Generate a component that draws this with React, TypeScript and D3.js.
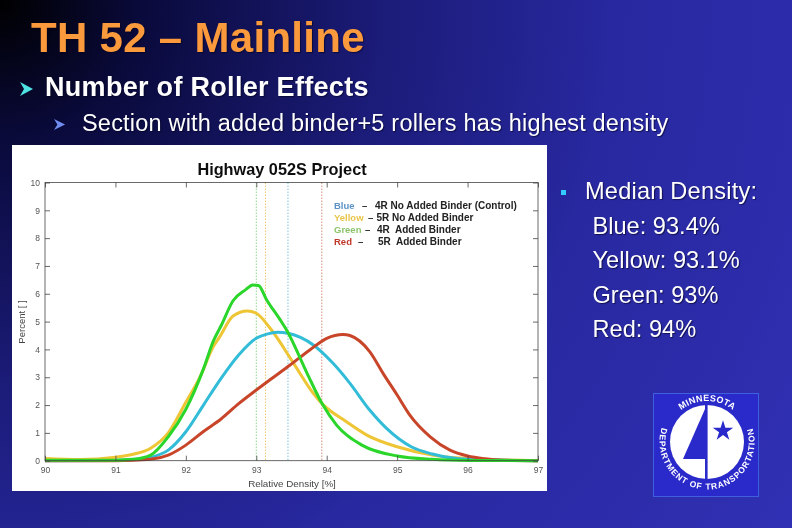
import React, { useEffect, useRef } from 'react';
import * as d3 from 'd3';

const xTicks = [90, 91, 92, 93, 94, 95, 96, 97];
const yTicks = [0, 1, 2, 3, 4, 5, 6, 7, 8, 9, 10];

const yellowX = [90, 90.5, 91, 91.25, 91.5, 91.75, 92, 92.2, 92.39, 92.48, 92.67, 92.87, 93.0, 93.2, 93.53, 93.81, 93.93, 94.28, 94.57, 95, 95.5, 96, 97];
const yellowY = [0.08, 0.04, 0.12, 0.23, 0.45, 1.0, 2.1, 3.0, 4.1, 4.45, 5.2, 5.38, 5.3, 4.75, 3.5, 2.42, 2.06, 1.4, 0.92, 0.5, 0.2, 0.08, 0];

const blueX = [90, 91, 91.25, 91.5, 91.75, 92, 92.25, 92.5, 92.75, 93, 93.15, 93.3, 93.45, 93.81, 94.09, 94.33, 94.61, 94.85, 95.2, 95.5, 96, 97];
const blueY = [0, 0.01, 0.04, 0.12, 0.38, 1.04, 2.0, 2.96, 3.8, 4.4, 4.55, 4.62, 4.58, 4.16, 3.5, 2.78, 1.82, 1.16, 0.5, 0.24, 0.05, 0];

const redX = [90, 91, 91.5, 91.75, 92, 92.25, 92.5, 92.75, 93, 93.19, 93.48, 93.76, 94.0, 94.23, 94.33, 94.61, 94.8, 95, 95.18, 95.47, 95.75, 96, 96.25, 96.5, 97];
const redY = [0, 0, 0.05, 0.2, 0.56, 1.05, 1.5, 2.05, 2.54, 2.9, 3.44, 3.98, 4.4, 4.54, 4.5, 3.92, 3.14, 2.36, 1.64, 0.86, 0.38, 0.17, 0.07, 0.02, 0];

const greenX = [90, 90.5, 91, 91.25, 91.5, 91.75, 92, 92.25, 92.39, 92.5, 92.67, 92.85, 92.95, 93.03, 93.15, 93.34, 93.43, 93.72, 93.93, 94.14, 94.5, 95, 95.5, 96, 97];
const greenY = [0.02, 0.02, 0.02, 0.05, 0.2, 0.86, 1.85, 3.3, 4.3, 4.85, 5.75, 6.15, 6.32, 6.3, 5.77, 5.06, 4.7, 3.15, 2.07, 1.28, 0.56, 0.17, 0.05, 0.01, 0];

const medians = [93.0, 93.13, 93.45, 93.93];
const medianColors = ['#8fd68f', '#eec56a', '#7cc4dc', '#d9907a'];

const legendNames = ['Blue', 'Yellow', 'Green', 'Red'];
const legendColors = ['#5b93c4', '#e8c54a', '#8cc46c', '#c0392b'];
const legendText = ['4R No Added Binder (Control)', '5R No Added Binder', '4R  Added Binder', '5R  Added Binder'];
const legendDashX = [362, 368, 365, 358];
const legendTextX = [375, 376.5, 377, 378];

const medianLines = ['Blue: 93.4%', 'Yellow: 93.1%', 'Green: 93%', 'Red: 94%'];

const sans = '"Liberation Sans", Arial, sans-serif';
const shadow = '1px 1px 1px rgba(0,0,30,0.6)';

const App: React.FC = () => {
  const ref = useRef<SVGSVGElement | null>(null);

  useEffect(() => {
    const svg = d3.select(ref.current);
    svg.selectAll('*').remove();

    const defs = svg.append('defs');
    const bg = defs.append('radialGradient').attr('id', 'bg').attr('gradientUnits', 'userSpaceOnUse')
      .attr('cx', 0).attr('cy', 0).attr('r', 950);
    bg.append('stop').attr('offset', '0%').attr('stop-color', '#000000');
    bg.append('stop').attr('offset', '15%').attr('stop-color', '#0a0a3c');
    bg.append('stop').attr('offset', '40%').attr('stop-color', '#1b1b78');
    bg.append('stop').attr('offset', '65%').attr('stop-color', '#2828a0');
    bg.append('stop').attr('offset', '100%').attr('stop-color', '#3030b4');
    defs.append('filter').attr('id', 'soft').append('feGaussianBlur').attr('stdDeviation', 0.5);
    defs.append('path').attr('id', 'logoTop').attr('d', 'M 666 442 A 41 41 0 0 1 748 442');
    defs.append('path').attr('id', 'logoRing').attr('d', 'M 666 418 A 47.5 47.5 0 1 0 748 418');

    svg.append('rect').attr('width', 792).attr('height', 528).attr('fill', 'url(#bg)');

    // slide text
    const slideText = (tx: number, ty: number, txt: string, size: number, weight: number, spacing: number, color = '#ffffff') =>
      svg.append('text').attr('x', tx).attr('y', ty).attr('fill', color)
        .attr('font-family', sans).attr('font-weight', weight).attr('font-size', size)
        .attr('letter-spacing', spacing).style('text-shadow', shadow).text(txt);

    slideText(31, 52, 'TH 52 – Mainline', 42, 700, 0.3, '#fb9a3c');
    slideText(45, 96, 'Number of Roller Effects', 27, 700, 0.3);
    slideText(82, 131, 'Section with added binder+5 rollers has highest density', 23.5, 400, 0.2);

    const arrow = 'M 0 0 L 13 7 L 0 14 L 4 7 Z';
    svg.append('path').attr('d', arrow).attr('transform', 'translate(20,82)').attr('fill', '#4fe3e3');
    svg.append('path').attr('d', arrow).attr('transform', 'translate(54,119) scale(0.85,0.78)').attr('fill', '#6f8cf0');

    // white chart panel
    svg.append('rect').attr('x', 12).attr('y', 145).attr('width', 535).attr('height', 346).attr('fill', '#ffffff');

    const x = d3.scaleLinear().domain([90, 97]).range([45, 538]);
    const y = d3.scaleLinear().domain([0, 10]).range([460.7, 182.5]);

    const plot = svg.append('g').attr('filter', 'url(#soft)');

    plot.append('text').attr('x', 282).attr('y', 175).attr('text-anchor', 'middle').attr('fill', '#111')
      .attr('font-family', sans).attr('font-weight', 700).attr('font-size', 16.3).text('Highway 052S Project');

    medians.forEach((m, i) => {
      plot.append('line').attr('x1', x(m)).attr('x2', x(m)).attr('y1', y(10)).attr('y2', y(0))
        .attr('stroke', medianColors[i]).attr('stroke-width', 1).attr('stroke-dasharray', '1.5 1.5');
    });

    const line = d3.line<[number, number]>().x((d) => x(d[0])).y((d) => y(d[1])).curve(d3.curveMonotoneX);
    const drawSeries = (xs: number[], ys: number[], color: string) => {
      plot.append('path').datum(d3.zip(xs, ys) as [number, number][])
        .attr('fill', 'none').attr('stroke', color).attr('stroke-width', 3).attr('stroke-linejoin', 'round')
        .attr('d', line as any);
    };
    drawSeries(yellowX, yellowY, '#eec535');
    drawSeries(blueX, blueY, '#30bcd8');
    drawSeries(redX, redY, '#c8452a');
    drawSeries(greenX, greenY, '#2bd62b');

    // axes box
    plot.append('rect').attr('x', x(90)).attr('y', y(10)).attr('width', x(97) - x(90)).attr('height', y(0) - y(10))
      .attr('fill', 'none').attr('stroke', '#444').attr('stroke-width', 0.8);

    const xAxis = plot.append('g').attr('transform', `translate(0,${y(0)})`)
      .call(d3.axisBottom(x).tickValues(xTicks).tickFormat(d3.format('d')).tickSize(-5).tickPadding(6));
    const yAxis = plot.append('g').attr('transform', `translate(${x(90)},0)`)
      .call(d3.axisLeft(y).tickValues(yTicks).tickFormat(d3.format('d')).tickSize(-5).tickPadding(5));
    const topAxis = plot.append('g').attr('transform', `translate(0,${y(10)})`)
      .call(d3.axisTop(x).tickValues(xTicks).tickFormat(() => '').tickSize(-5));
    const rightAxis = plot.append('g').attr('transform', `translate(${x(97)},0)`)
      .call(d3.axisRight(y).tickValues(yTicks).tickFormat(() => '').tickSize(-5));
    [xAxis, yAxis, topAxis, rightAxis].forEach((a) => {
      a.select('.domain').remove();
      a.selectAll('line').attr('stroke', '#444').attr('stroke-width', 0.8);
      a.selectAll('text').attr('fill', '#555').attr('font-family', sans).attr('font-size', 8.5);
    });

    plot.append('text').attr('x', 292).attr('y', 487).attr('text-anchor', 'middle').attr('fill', '#444')
      .attr('font-family', sans).attr('font-size', 9.8).text('Relative Density [%]');
    plot.append('text').attr('transform', 'translate(25,322) rotate(-90)').attr('text-anchor', 'middle').attr('fill', '#444')
      .attr('font-family', sans).attr('font-size', 9.5).text('Percent [ ]');

    // legend
    legendNames.forEach((name, i) => {
      const ly = 209 + i * 11.9;
      plot.append('text').attr('x', 334).attr('y', ly).attr('fill', legendColors[i])
        .attr('font-family', sans).attr('font-weight', 700).attr('font-size', 9.5).text(name);
      plot.append('text').attr('x', legendDashX[i]).attr('y', ly).attr('fill', '#222')
        .attr('font-family', sans).attr('font-weight', 700).attr('font-size', 9.5).text('–');
      plot.append('text').attr('x', legendTextX[i]).attr('y', ly).attr('fill', '#222')
        .attr('font-family', sans).attr('font-weight', 700).attr('font-size', 10)
        .style('white-space', 'pre').text(legendText[i]);
    });

    // right hand text
    svg.append('rect').attr('x', 561).attr('y', 190).attr('width', 5).attr('height', 5).attr('fill', '#33ccff');
    slideText(585, 199, 'Median Density:', 23.6, 400, 0.2);
    medianLines.forEach((t, i) => {
      slideText(592.5, 234 + i * 34.4, t, 23.6, 400, 0);
    });

    // Mn/DOT logo
    const logo = svg.append('g');
    logo.append('rect').attr('x', 653.5).attr('y', 393.5).attr('width', 105).attr('height', 103)
      .attr('fill', '#2a2acb').attr('stroke', '#3f5fe0').attr('stroke-width', 1);
    logo.append('circle').attr('cx', 707).attr('cy', 442).attr('r', 37).attr('fill', '#ffffff');
    logo.append('path').attr('d', 'M 705 409 L 683 459 L 705 459 Z').attr('fill', '#2a2acb');
    logo.append('rect').attr('x', 705).attr('y', 405).attr('width', 2.6).attr('height', 74).attr('fill', '#2a2acb');
    const star = d3.symbol().type(d3.symbolStar).size(130);
    logo.append('path').attr('d', star() as string).attr('transform', 'translate(723,431)').attr('fill', '#2a2acb');
    const ring = (id: string, txt: string, size: number, spacing: number) => {
      logo.append('text').attr('fill', '#ffffff').attr('font-family', sans).attr('font-weight', 700).attr('font-size', size)
        .attr('letter-spacing', spacing)
        .append('textPath').attr('href', `#${id}`).attr('startOffset', '50%').attr('text-anchor', 'middle').text(txt);
    };
    ring('logoTop', 'MINNESOTA', 9, 0.3);
    ring('logoRing', 'DEPARTMENT OF TRANSPORTATION', 8.5, 0.9);
  }, []);

  return <svg ref={ref} width={792} height={528} style={{ position: 'fixed', left: 0, top: 0 }} />;
};

export default App;
